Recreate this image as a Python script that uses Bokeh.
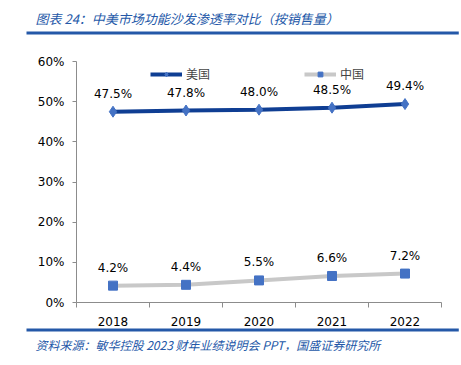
from bokeh.plotting import figure
from bokeh.models import (ColumnDataSource, Range1d, FixedTicker, PrintfTickFormatter,
                          Legend, LegendItem, Label, Title)
from bokeh.core.properties import value
from bokeh.embed import file_html
from bokeh.resources import INLINE

years = ["2018", "2019", "2020", "2021", "2022"]
us_vals = [47.5, 47.8, 48.0, 48.5, 49.4]
cn_vals = [4.2, 4.4, 5.5, 6.6, 7.2]
y_ticks = [0, 10, 20, 30, 40, 50, 60]

title_text = "图表 24：中美市场功能沙发渗透率对比（按销售量）"
source_text = "资料来源：敏华控股 2023 财年业绩说明会 PPT，国盛证券研究所"

xs = list(range(len(years)))
src_us = ColumnDataSource(dict(x=xs, y=us_vals, lab=[f"{v:.1f}%" for v in us_vals]))
src_cn = ColumnDataSource(dict(x=xs, y=cn_vals, lab=[f"{v:.1f}%" for v in cn_vals]))

p = figure(width=461, height=365, output_backend="svg", toolbar_location=None,
           x_range=Range1d(-0.5, len(years) - 0.5), y_range=Range1d(0, 60),
           min_border_left=76, min_border_right=20, min_border_top=61, min_border_bottom=63)
p.outline_line_color = None
p.grid.visible = False
p.background_fill_color = "white"
p.border_fill_color = "white"

tick_font = "DejaVu Sans"
axis_col = "#8C8C8C"

p.xaxis.ticker = FixedTicker(ticks=xs, minor_ticks=[i - 0.5 for i in range(len(years) + 1)])
p.xaxis.major_label_overrides = {i: y for i, y in enumerate(years)}
p.xaxis.major_tick_out = 0
p.xaxis.major_tick_in = 0
p.xaxis.minor_tick_out = 5
p.xaxis.minor_tick_in = 0
p.xaxis.minor_tick_line_color = axis_col
p.xaxis.axis_line_color = axis_col
p.xaxis.major_label_standoff = 9
p.xaxis.major_label_text_font = tick_font
p.xaxis.major_label_text_font_size = "12px"
p.xaxis.major_label_text_color = "#000000"

p.yaxis.ticker = FixedTicker(ticks=y_ticks, minor_ticks=[])
p.yaxis.formatter = PrintfTickFormatter(format="%d%%")
p.yaxis.major_tick_out = 4
p.yaxis.major_tick_in = 0
p.yaxis.major_tick_line_color = axis_col
p.yaxis.axis_line_color = axis_col
p.yaxis.major_label_standoff = 8
p.yaxis.major_label_text_font = tick_font
p.yaxis.major_label_text_font_size = "12px"
p.yaxis.major_label_text_color = "#000000"

us_line_col = "#0F3E93"
cn_line_col = "#C8C8C8"
mk_col = "#4472C4"
blue = "#2458A8"

l1 = p.line("x", "y", source=src_us, line_color=us_line_col, line_width=4)
m1 = p.scatter("x", "y", source=src_us, marker="diamond", size=11, fill_color=mk_col, line_color=mk_col)
l2 = p.line("x", "y", source=src_cn, line_color=cn_line_col, line_width=4)
m2 = p.scatter("x", "y", source=src_cn, marker="square", size=9, fill_color=mk_col, line_color=mk_col)

for s in (src_us, src_cn):
    p.text("x", "y", text="lab", source=s, text_font=value(tick_font), text_font_size="12px",
           text_align="center", text_baseline="middle", y_offset=-18, text_color="#000000")

# legend near the top of the plot area (kept fully inside so it is not cropped)
legend = Legend(items=[LegendItem(label="美国", renderers=[l1, m1]),
                       LegendItem(label="中国", renderers=[l2, m2])],
                orientation="horizontal", location=(74, 220),
                label_text_font="Noto Sans CJK SC", label_text_font_size="12px",
                glyph_width=32, glyph_height=12, label_standoff=4, spacing=94,
                padding=0, margin=0, border_line_color=None, background_fill_alpha=0)
p.add_layout(legend, "center")

# above panels, nearest the frame first: spacer, rule, title
p.add_layout(Label(x=0, y=0, x_units="screen", y_units="screen", text=" ",
                   text_font_size="1px", text_baseline="bottom", padding=(0, 13),
                   background_fill_color=None), "above")
p.add_layout(Label(x=-50, y=0, x_units="screen", y_units="screen", text=" ",
                   text_font_size="1px", text_baseline="bottom", padding=(216, 1),
                   background_fill_color=blue), "above")
p.add_layout(Title(text=title_text, align="left", offset=-41, standoff=8,
                   text_font="Noto Sans CJK SC", text_font_size="13px",
                   text_font_style="italic", text_color=blue), "above")

# below panels, after the x axis: rule, source
p.add_layout(Label(x=-50, y=0, x_units="screen", y_units="screen", text=" ",
                   text_font_size="1px", text_baseline="bottom", padding=(216, 1),
                   background_fill_color=blue), "below")
p.add_layout(Title(text=source_text, align="left", offset=-41, standoff=4,
                   text_font="Noto Sans CJK SC", text_font_size="12px",
                   text_font_style="italic", text_color=blue), "below")

open("out.html", "w").write(file_html(p, INLINE))
